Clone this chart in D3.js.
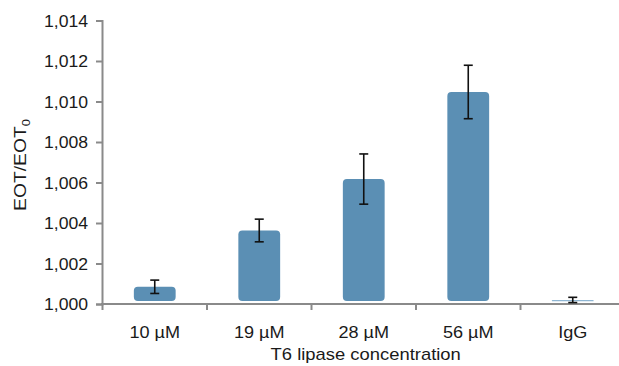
<!DOCTYPE html>
<html>
<head>
<meta charset="utf-8">
<script src="https://cdn.jsdelivr.net/npm/d3@7"></script>
<style>
  body { margin: 0; background: #fff; }
  svg text { font-family: "Liberation Sans", Arial, sans-serif; fill: #1a1a1a; }
</style>
</head>
<body>
<div id="chart"></div>
<script>
'use strict';

const categories = ['10 µM', '19 µM', '28 µM', '56 µM', 'IgG'];
const means = [1.00085, 1.00363, 1.00617, 1.01047, 1.0002];
const errors = [0.00033, 0.00056, 0.00124, 0.00132, 0.00013];
const yTicks = [1.000, 1.002, 1.004, 1.006, 1.008, 1.010, 1.012, 1.014];

const width = 619, height = 366;
const barColor = '#5b8fb4';
const axisColor = '#8a8a8a';
const stretch = 1.13;

const svg = d3.select('#chart').append('svg')
  .attr('width', width)
  .attr('height', height);

const x = d3.scaleBand()
  .domain(categories)
  .range([102.5, 625])
  .padding(0);

const y = d3.scaleLinear()
  .domain([1.000, 1.014])
  .range([304, 20.5]);

const fmt = (v) => d3.format('.3f')(v).replace('.', ',');

// y axis
const yAxis = svg.append('g')
  .attr('transform', 'translate(102,0)')
  .call(d3.axisLeft(y).tickValues(yTicks).tickFormat(fmt).tickSize(6).tickPadding(8));
yAxis.select('.domain').attr('stroke', axisColor).attr('stroke-width', 2);
yAxis.selectAll('.tick line').attr('stroke', axisColor).attr('stroke-width', 2);
yAxis.selectAll('.tick text')
  .attr('font-size', 16)
  .attr('fill', '#1a1a1a')
  .attr('dy', '0.35em')
  .attr('transform', `translate(-14,0) scale(1.1,1)`)
  .attr('x', 0);

// x axis
const bounds = [102.5].concat(categories.map((c) => x(c) + x.bandwidth()));
const xAxis = svg.append('g');
xAxis.append('line')
  .attr('x1', 101).attr('x2', width)
  .attr('y1', y(1.000)).attr('y2', y(1.000))
  .attr('stroke', axisColor).attr('stroke-width', 2);
xAxis.selectAll('.xtick')
  .data(bounds)
  .enter().append('line')
    .attr('class', 'xtick')
    .attr('x1', (d) => d).attr('x2', (d) => d)
    .attr('y1', y(1.000)).attr('y2', y(1.000) + 6)
    .attr('stroke', axisColor).attr('stroke-width', 2);
xAxis.selectAll('.xlabel')
  .data(categories)
  .enter().append('text')
    .attr('class', 'xlabel')
    .attr('transform', (d) => `translate(${x(d) + x.bandwidth() / 2},337.5) scale(${stretch},1)`)
    .attr('text-anchor', 'middle')
    .attr('font-size', 16)
    .text((d) => d);

// bars
const barW = x.bandwidth() * 0.4;
svg.selectAll('.bar')
  .data(means)
  .enter().append('rect')
    .attr('class', 'bar')
    .attr('x', (d, i) => x(categories[i]) + (x.bandwidth() - barW) / 2)
    .attr('y', (d) => y(d))
    .attr('width', barW)
    .attr('height', (d) => Math.max(1.2, y(1.000) - 3 - y(d)))
    .attr('rx', (d) => Math.min(4, (y(1.000) - 3 - y(d)) / 2))
    .attr('fill', (d, i) => i === 4 ? '#8fb6d3' : barColor);

// error bars
const err = svg.selectAll('.err')
  .data(means)
  .enter().append('g')
    .attr('class', 'err')
    .attr('transform', (d, i) => `translate(${x(categories[i]) + x.bandwidth() / 2},0)`)
    .attr('stroke', '#111')
    .attr('stroke-width', 1.6);
err.append('line')
  .attr('y1', (d, i) => y(d + errors[i]))
  .attr('y2', (d, i) => y(d - errors[i]));
err.append('line')
  .attr('x1', -4.5).attr('x2', 4.5)
  .attr('y1', (d, i) => y(d + errors[i]))
  .attr('y2', (d, i) => y(d + errors[i]));
err.append('line')
  .attr('x1', -4.5).attr('x2', 4.5)
  .attr('y1', (d, i) => y(d - errors[i]))
  .attr('y2', (d, i) => y(d - errors[i]));

// axis titles
svg.append('text')
  .attr('transform', `translate(365.7,360) scale(1.15,1)`)
  .attr('text-anchor', 'middle')
  .attr('font-size', 16)
  .text('T6 lipase concentration');

const yTitle = svg.append('text')
  .attr('transform', 'translate(25.5,165) rotate(-90) scale(1.17,1)')
  .attr('text-anchor', 'middle')
  .attr('font-size', 16.5);
yTitle.append('tspan').text('EOT/EOT');
yTitle.append('tspan').attr('font-size', 11).attr('dy', 4).text('0');
</script>
</body>
</html>
